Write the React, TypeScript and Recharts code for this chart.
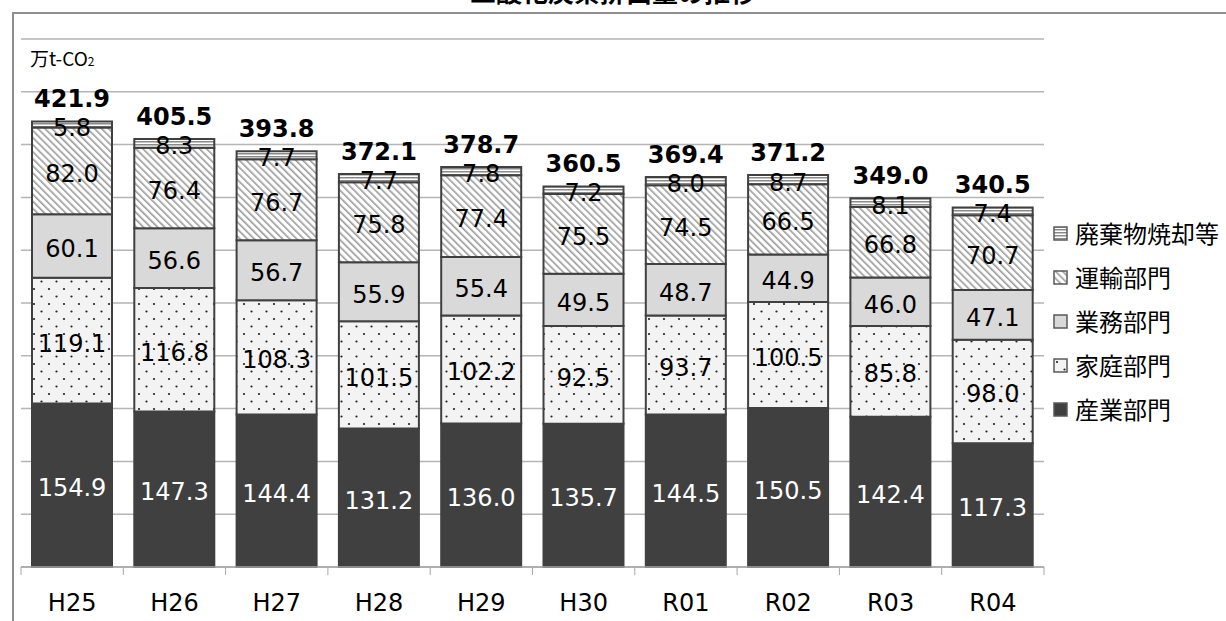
import React from "react";
import { BarChart, Bar, XAxis, YAxis, CartesianGrid, LabelList } from "recharts";

const YEARS = ["H25", "H26", "H27", "H28", "H29", "H30", "R01", "R02", "R03", "R04"];
const SANGYO = [154.9, 147.3, 144.4, 131.2, 136.0, 135.7, 144.5, 150.5, 142.4, 117.3];
const KATEI = [119.1, 116.8, 108.3, 101.5, 102.2, 92.5, 93.7, 100.5, 85.8, 98.0];
const GYOMU = [60.1, 56.6, 56.7, 55.9, 55.4, 49.5, 48.7, 44.9, 46.0, 47.1];
const UNYU = [82.0, 76.4, 76.7, 75.8, 77.4, 75.5, 74.5, 66.5, 66.8, 70.7];
const HAIKI = [5.8, 8.3, 7.7, 7.7, 7.8, 7.2, 8.0, 8.7, 8.1, 7.4];
const TOTALS = [421.9, 405.5, 393.8, 372.1, 378.7, 360.5, 369.4, 371.2, 349.0, 340.5];
const Y_TICKS = [0, 50, 100, 150, 200, 250, 300, 350, 400, 450, 500];

const SERIES = [
  { key: "sangyo", name: "産業部門", fill: "#404040", text: "#ffffff" },
  { key: "katei", name: "家庭部門", fill: "url(#dots)", text: "#000000" },
  { key: "gyomu", name: "業務部門", fill: "#d9d9d9", text: "#000000" },
  { key: "unyu", name: "運輸部門", fill: "url(#diag)", text: "#000000" },
  { key: "haiki", name: "廃棄物焼却等", fill: "url(#hlines)", text: "#000000" },
];

const data = YEARS.map((y, i) => ({
  year: y,
  sangyo: SANGYO[i],
  katei: KATEI[i],
  gyomu: GYOMU[i],
  unyu: UNYU[i],
  haiki: HAIKI[i],
  total: TOTALS[i],
}));

const LEFT = 21;
const RIGHT = 1044;
const AXIS_Y = 567;
const STEP = (RIGHT - LEFT) / YEARS.length;
const NUM_FONT = "'DejaVu Sans', Verdana, sans-serif";
const JP_FONT = "'Noto Sans CJK JP', sans-serif";

const segLabel = (color: string) => (p: any) => {
  const { x, y, width, height, value } = p;
  return (
    <text x={x + width / 2} y={y + height / 2 + 11} textAnchor="middle" fill={color}
      fontSize={24} fontFamily={NUM_FONT}>
      {Number(value).toFixed(1)}
    </text>
  );
};

const totalLabel = (p: any) => {
  const { x, y, width, index } = p;
  return (
    <text x={x + width / 2} y={y - 14} textAnchor="middle" fill="#000"
      fontSize={24} fontWeight="bold" fontFamily={NUM_FONT}>
      {TOTALS[index].toFixed(1)}
    </text>
  );
};

const Tick = (p: any) => {
  const { x, payload, index } = p;
  const half = STEP / 2;
  return (
    <g>
      <line x1={x - half} x2={x - half} y1={AXIS_Y} y2={AXIS_Y + 8} stroke="#a6a6a6" />
      {index === YEARS.length - 1 && (
        <line x1={x + half} x2={x + half} y1={AXIS_Y} y2={AXIS_Y + 8} stroke="#a6a6a6" />
      )}
      <text x={x} y={AXIS_Y + 44} textAnchor="middle" fill="#000" fontSize={24} fontFamily={NUM_FONT}>
        {payload.value}
      </text>
    </g>
  );
};

function Patterns() {
  return (
    <svg width={0} height={0} style={{ position: "absolute" }}>
      <defs>
        <pattern id="dots" width={15} height={15} patternUnits="userSpaceOnUse">
          <rect width={15} height={15} fill="#f3f3f3" />
          <circle cx={4} cy={4} r={1.1} fill="#222" />
          <circle cx={11.5} cy={11.5} r={1.1} fill="#222" />
        </pattern>
        <pattern id="diag" width={5} height={5} patternUnits="userSpaceOnUse" patternTransform="rotate(-45)">
          <rect width={5} height={5} fill="#ffffff" />
          <rect width={1.6} height={5} fill="#9a9a9a" />
        </pattern>
        <pattern id="hlines" width={4} height={3} patternUnits="userSpaceOnUse">
          <rect width={4} height={3} fill="#ffffff" />
          <rect width={4} height={1.5} fill="#8a8a8a" />
        </pattern>
      </defs>
    </svg>
  );
}

const LEGEND_ORDER = [...SERIES].reverse();
const LEGEND_Y = [233, 277, 321, 365, 409];

export default function App() {
  return (
    <div style={{ position: "fixed", left: 0, top: 0, width: 1226, height: 621, overflow: "hidden", background: "#fff" }}>
      <Patterns />
      <div style={{ position: "absolute", left: 12, top: 12, width: 1400, height: 800,
        borderLeft: "2px solid #8f8f8f", borderTop: "2px solid #8f8f8f" }} />
      <div style={{ position: "absolute", left: 0, width: 1226, top: -23, textAlign: "center",
        fontSize: 26, fontWeight: "bold", fontFamily: JP_FONT, lineHeight: "28px" }}>
        二酸化炭素排出量の推移
      </div>
      <div style={{ position: "absolute", left: 30, top: 46, fontSize: 19, fontFamily: JP_FONT, lineHeight: "24px" }}>
        万t-CO<span style={{ fontSize: 12 }}>2</span>
      </div>
      <div style={{ position: "absolute", left: 0, top: 0 }}>
        <BarChart width={1226} height={621} data={data} barSize={80}
          margin={{ top: 39, right: 1226 - RIGHT, bottom: 0, left: LEFT }}>
          <CartesianGrid vertical={false} stroke="#b5b5b5" strokeWidth={1.5} />
          <XAxis dataKey="year" height={621 - AXIS_Y} tickLine={false} tick={<Tick />}
            axisLine={{ stroke: "#a6a6a6", strokeWidth: 1.5 }} interval={0} />
          <YAxis hide domain={[0, 500]} ticks={Y_TICKS} />
          {SERIES.map((s) => (
            <Bar key={s.key} dataKey={s.key} name={s.name} stackId="a" fill={s.fill}
              stroke="#404040" strokeWidth={2} isAnimationActive={false}>
              <LabelList dataKey={s.key} content={segLabel(s.text)} />
              {s.key === "haiki" && <LabelList dataKey="total" content={totalLabel} />}
            </Bar>
          ))}
        </BarChart>
      </div>
      {LEGEND_ORDER.map((s, i) => (
        <div key={s.key} style={{ position: "absolute", left: 1053, top: LEGEND_Y[i] - 16, height: 32,
          display: "flex", alignItems: "center", whiteSpace: "nowrap" }}>
          <svg width={15} height={15} style={{ marginRight: 7 }}>
            <rect x={1} y={1} width={13} height={13} fill={s.fill} stroke="#595959" strokeWidth={1.5} />
          </svg>
          <span style={{ fontSize: 24, fontFamily: JP_FONT, color: "#000", lineHeight: "32px" }}>{s.name}</span>
        </div>
      ))}
    </div>
  );
}
